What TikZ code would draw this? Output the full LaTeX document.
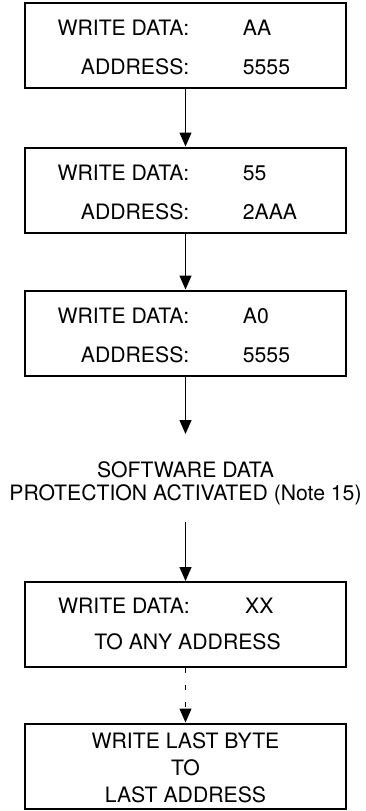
\documentclass[tikz,border=0pt]{standalone}
\usepackage{fontspec}
\setmainfont{TeX Gyre Heros}
\usetikzlibrary{arrows.meta}
\begin{document}
\begin{tikzpicture}[x=1pt,y=-1pt,
  box/.style={draw=black,line width=2pt,minimum width=321pt,minimum height=85pt,inner sep=0pt},
  lbl/.style={inner sep=0pt,font=\fontsize{21.2}{25}\selectfont},
  flow/.style={line width=1.3pt,-{Triangle[length=14pt,width=12pt]}},
  dflow/.style={flow,dash pattern=on 4.5pt off 12.5pt}]
\useasboundingbox (0,0) rectangle (365,811);
% boxes
\node[box] (b1) at (185.5,45) {};
\node[box] (b2) at (185.5,190) {};
\node[box] (b3) at (185.5,333) {};
\node[box] (b4) at (185.5,624.5) {};
\node[box] (b5) at (185.5,766) {};
% box 1
\node[lbl,anchor=base east] (b1a) at (189.5,35.5) {WRITE DATA:};
\node[lbl,anchor=base west] (b1b) at (242.7,35.5) {AA};
\node[lbl,anchor=base east] (b1c) at (189.5,74) {ADDRESS:};
\node[lbl,anchor=base west] (b1d) at (242.7,74) {5555};
% box 2
\node[lbl,anchor=base east] (b2a) at (189.5,180.5) {WRITE DATA:};
\node[lbl,anchor=base west] (b2b) at (242.7,180.5) {55};
\node[lbl,anchor=base east] (b2c) at (189.5,219) {ADDRESS:};
\node[lbl,anchor=base west] (b2d) at (242.7,219) {2AAA};
% box 3
\node[lbl,anchor=base east] (b3a) at (189.5,323.5) {WRITE DATA:};
\node[lbl,anchor=base west] (b3b) at (242.7,323.5) {A0};
\node[lbl,anchor=base east] (b3c) at (189.5,362) {ADDRESS:};
\node[lbl,anchor=base west] (b3d) at (242.7,362) {5555};
% note
\node[lbl,anchor=base] (n1) at (185.5,477) {SOFTWARE DATA};
\node[lbl,anchor=base] (n2) at (185.5,500) {PROTECTION ACTIVATED (Note 15)};
\coordinate (ntop) at (185.5,434);
\coordinate (nbot) at (185.5,522);
% box 4
\node[lbl,anchor=base east] (b4a) at (190,613) {WRITE DATA:};
\node[lbl,anchor=base west] (b4b) at (245,613) {XX};
\node[lbl,anchor=base] (b4c) at (187.5,649) {TO ANY ADDRESS};
% box 5
\node[lbl,anchor=base] (b5a) at (185.5,748) {WRITE LAST BYTE};
\node[lbl,anchor=base] (b5b) at (185.5,775) {TO};
\node[lbl,anchor=base] (b5c) at (185.5,802) {LAST ADDRESS};
% connectors
\draw[flow] (b1.south) -- (b2.north);
\draw[flow] (b2.south) -- (b3.north);
\draw[flow] (b3.south) -- (ntop);
\draw[flow] (nbot) -- (b4.north);
\draw[dflow] (b4.south) -- (b5.north);
\end{tikzpicture}
\end{document}
